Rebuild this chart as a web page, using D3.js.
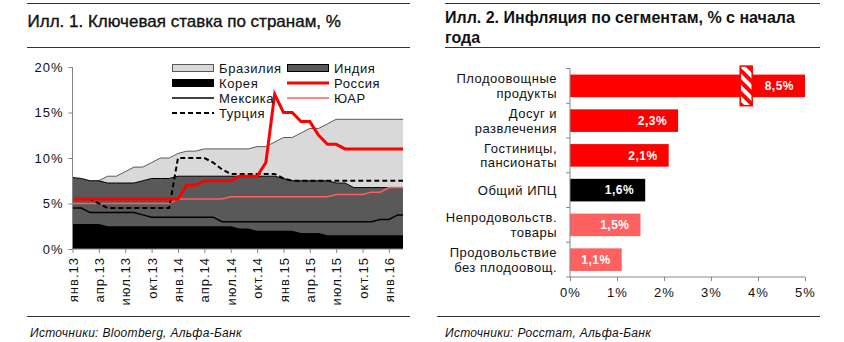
<!DOCTYPE html>
<html><head><meta charset="utf-8">
<script src="https://cdn.jsdelivr.net/npm/d3@7/dist/d3.min.js"></script>
<style>
body{margin:0;background:#fff;}
svg{display:block;font-family:"Liberation Sans",Arial,sans-serif;}
</style></head>
<body>
<svg id="c" width="844" height="342"></svg>
<script>
// ---------- DATA: left chart (monthly, Jan 2013 .. Mar 2016) ----------
const monthTicks = ["янв.13","апр.13","июл.13","окт.13","янв.14","апр.14","июл.14","окт.14","янв.15","апр.15","июл.15","окт.15","янв.16"];
const brazil = [7.25,7.25,7.25,7.5,8.0,8.0,8.5,9.0,9.0,9.5,10.0,10.0,10.5,10.75,10.75,11.0,11.0,11.0,11.0,11.0,11.0,11.25,11.25,11.75,12.25,12.25,12.75,13.25,13.25,13.75,14.25,14.25,14.25,14.25,14.25,14.25,14.25,14.25,14.25];
const india  = [7.85,7.75,7.5,7.5,7.25,7.25,7.25,7.25,7.5,7.75,7.75,7.75,8.0,8.0,8.0,8.0,8.0,8.0,8.0,8.0,8.0,8.0,8.0,8.0,7.75,7.5,7.5,7.5,7.5,7.5,7.25,7.25,6.75,6.75,6.75,6.75,6.75,6.75,6.75];
const korea  = [2.75,2.75,2.75,2.75,2.5,2.5,2.5,2.5,2.5,2.5,2.5,2.5,2.5,2.5,2.5,2.5,2.5,2.5,2.5,2.25,2.25,2.0,2.0,2.0,2.0,2.0,1.75,1.75,1.75,1.5,1.5,1.5,1.5,1.5,1.5,1.5,1.5,1.5,1.5];
const russia = [5.5,5.5,5.5,5.5,5.5,5.5,5.5,5.5,5.5,5.5,5.5,5.5,5.5,7.0,7.0,7.5,7.5,7.5,7.5,8.0,8.0,8.0,9.5,17.0,15.0,15.0,14.0,14.0,12.5,11.5,11.5,11.0,11.0,11.0,11.0,11.0,11.0,11.0,11.0];
const mexico = [4.5,4.5,4.0,4.0,4.0,4.0,4.0,4.0,3.75,3.5,3.5,3.5,3.5,3.5,3.5,3.5,3.5,3.0,3.0,3.0,3.0,3.0,3.0,3.0,3.0,3.0,3.0,3.0,3.0,3.0,3.0,3.0,3.0,3.0,3.0,3.25,3.25,3.75,3.75];
const safrica= [5.0,5.0,5.0,5.0,5.0,5.0,5.0,5.0,5.0,5.0,5.0,5.0,5.5,5.5,5.5,5.5,5.5,5.5,5.75,5.75,5.75,5.75,5.75,5.75,5.75,5.75,5.75,5.75,5.75,5.75,6.0,6.0,6.0,6.0,6.25,6.25,6.75,6.75,6.75];
const turkey = [5.5,5.5,5.5,5.0,4.5,4.5,4.5,4.5,4.5,4.5,4.5,4.5,10.0,10.0,10.0,10.0,9.5,8.75,8.25,8.25,8.25,8.25,8.25,8.25,7.75,7.5,7.5,7.5,7.5,7.5,7.5,7.5,7.5,7.5,7.5,7.5,7.5,7.5,7.5];
const leftYTicks = [0,5,10,15,20];
const legendNames = ["Бразилия","Индия","Корея","Россия","Мексика","ЮАР","Турция"];

// ---------- DATA: right chart ----------
const segCategories = ["Плодоовощные\nпродукты","Досуг и\nразвлечения","Гостиницы,\nпансионаты","Общий ИПЦ","Непродовольств.\nтовары","Продовольствие\nбез плодоовощ."];
const segValues = [8.5,2.3,2.1,1.6,1.5,1.1];
const segColors = ["#ff0000","#ff0000","#ff0000","#000000","#ff6161","#ff6161"];
const rightXTicks = [0,1,2,3,4,5];

const svg = d3.select("#c");
const FONT = "13px";

// ---------- headers / rules ----------
function rule(x1,x2,y){svg.append("line").attr("x1",x1).attr("x2",x2).attr("y1",y).attr("y2",y).attr("stroke","#333").attr("stroke-width",1);}
rule(27,410,3.5); rule(27,410,47.5); rule(27,410,316.5);
rule(445,820,3.5); rule(445,820,47.5); rule(437,820,316.5);
svg.append("text").attr("x",27.5).attr("y",27).attr("font-size","17px").attr("fill","#111")
  .attr("stroke","#111").attr("stroke-width",0.35).text("Илл. 1. Ключевая ставка по странам, %");
const titleB = (x,y,t)=>svg.append("text").attr("x",x).attr("y",y).attr("font-size","16px").attr("font-weight","bold").attr("fill","#111").text(t);
titleB(445,23,"Илл. 2. Инфляция по сегментам, % с начала");
titleB(445,42.5,"года");
svg.append("text").attr("x",30).attr("y",337).attr("font-size","12px").attr("font-style","italic").attr("letter-spacing","0.3px").attr("fill","#111").text("Источники: Bloomberg, Альфа-Банк");
svg.append("text").attr("x",445).attr("y",337).attr("font-size","12px").attr("font-style","italic").attr("letter-spacing","0.3px").attr("fill","#111").text("Источники: Росстат, Альфа-Банк");

// ---------- left chart ----------
const xL = d3.scaleLinear().domain([0,37.6]).range([72.5,403]);
const yL = d3.scaleLinear().domain([0,20]).range([249,67]);
const idx = d3.range(brazil.length);
svg.append("defs").append("clipPath").attr("id","clipL").append("rect")
  .attr("x",xL(0)).attr("y",yL(20)-5).attr("width",xL(37.6)-xL(0)).attr("height",yL(0)-yL(20)+5);
const gL = svg.append("g").attr("clip-path","url(#clipL)");
function area(arr){return d3.area().x(i=>xL(i)).y0(yL(0)).y1(i=>yL(arr[i]))(idx);}
function line(arr){return d3.line().x(i=>xL(i)).y(i=>yL(arr[i]))(idx);}
gL.append("path").attr("d",area(brazil)).attr("fill","#d9d9d9");
gL.append("path").attr("d",line(brazil)).attr("fill","none").attr("stroke","#595959").attr("stroke-width",1);
gL.append("path").attr("d",area(india)).attr("fill","#595959");
gL.append("path").attr("d",line(india)).attr("fill","none").attr("stroke","#000").attr("stroke-width",1);
gL.append("path").attr("d",area(korea)).attr("fill","#000");
gL.append("path").attr("d",line(mexico)).attr("fill","none").attr("stroke","#000").attr("stroke-width",1.5);
gL.append("path").attr("d",line(safrica)).attr("fill","none").attr("stroke","#ff5f5f").attr("stroke-width",1.5);
gL.append("path").attr("d",line(turkey)).attr("fill","none").attr("stroke","#000").attr("stroke-width",2).attr("stroke-dasharray","5,3");
gL.append("path").attr("d",line(russia)).attr("fill","none").attr("stroke","#ff0000").attr("stroke-width",3);

// axes
const yAxisL = d3.axisLeft(yL).tickValues(leftYTicks).tickSize(4).tickFormat(d=>d+"%");
const gyL = svg.append("g").attr("transform",`translate(${xL(0)},0)`).call(yAxisL);
const xAxisL = d3.axisBottom(xL).tickValues(d3.range(0,37,3)).tickSize(4).tickFormat((d,i)=>monthTicks[i]);
const gxL = svg.append("g").attr("transform",`translate(0,${yL(0)})`).call(xAxisL);
gxL.selectAll("text").attr("transform","rotate(-90)").attr("text-anchor","end").attr("x",-8).attr("y",0).attr("dy","0.35em");
[gyL,gxL].forEach(g=>{
  g.select(".domain").attr("stroke","#868686");
  g.selectAll(".tick line").attr("stroke","#868686");
  g.selectAll("text").attr("font-size",FONT).attr("letter-spacing","1px").attr("font-family","Liberation Sans, Arial, sans-serif").attr("fill","#111");
});
gxL.select(".domain").attr("d",`M${xL(0)},0H${xL(37.6)}`);
gyL.select(".domain").attr("d",`M0,${yL(20)}V${yL(0)}`);
gyL.selectAll("text").attr("x",-9);

// legend
const legX = [172,287], legY0 = 68, legDy = 15;
legendNames.forEach((name,i)=>{
  const col=i%2,row=Math.floor(i/2);
  const x=legX[col], y=legY0+row*legDy;
  const g=svg.append("g");
  if(name==="Бразилия") g.append("rect").attr("x",x+0.5).attr("y",y-3.5).attr("width",41).attr("height",7).attr("fill","#d9d9d9").attr("stroke","#595959");
  if(name==="Индия") g.append("rect").attr("x",x+0.5).attr("y",y-3.5).attr("width",41).attr("height",7).attr("fill","#595959").attr("stroke","#000");
  if(name==="Корея") g.append("rect").attr("x",x+0.5).attr("y",y-3.5).attr("width",41).attr("height",7).attr("fill","#000").attr("stroke","#000");
  const ln=(c,w,da)=>g.append("line").attr("x1",x).attr("x2",x+42).attr("y1",y).attr("y2",y).attr("stroke",c).attr("stroke-width",w).attr("stroke-dasharray",da||null);
  if(name==="Россия") ln("#ff0000",3);
  if(name==="Мексика") ln("#000",1.5);
  if(name==="ЮАР") ln("#ff5f5f",1.5);
  if(name==="Турция") ln("#000",2,"5,3");
  g.append("text").attr("x",x+47).attr("y",y).attr("dy","0.36em").attr("font-size",FONT).attr("letter-spacing","0.6px").attr("fill","#111").text(name);
});

// ---------- right chart ----------
const xR = d3.scaleLinear().domain([0,5]).range([570,805]);
const yR = d3.scaleBand().domain(segCategories).range([68.5,277]).paddingInner(0.35).paddingOuter(0.175);
const defs = svg.select("defs");
const pat = defs.append("pattern").attr("id","hatch").attr("patternUnits","userSpaceOnUse").attr("width",8).attr("height",8).attr("patternTransform","rotate(-45)");
pat.append("rect").attr("width",8).attr("height",8).attr("fill","#fff");
pat.append("rect").attr("width",4).attr("height",8).attr("fill","#ff0000");

const gR = svg.append("g");
segCategories.forEach((c,i)=>{
  const v=segValues[i];
  gR.append("rect").attr("x",xR(0)).attr("y",yR(c)).attr("width",xR(Math.min(v,5))-xR(0)).attr("height",yR.bandwidth()).attr("fill",segColors[i]);
  gR.append("text").attr("x",xR(Math.min(v,5))-11).attr("y",yR(c)+yR.bandwidth()/2).attr("dy","0.36em")
    .attr("text-anchor","end").attr("font-size","12px").attr("font-weight","bold").attr("letter-spacing","0.5px").attr("fill","#fff")
    .text(d3.format(".1f")(v).replace(".",",")+"%");
  if(v>5){
    // axis break marker
    gR.append("rect").attr("x",xR(3.6)+1).attr("y",yR(c)-8.5).attr("width",12).attr("height",yR.bandwidth()+17)
      .attr("fill","url(#hatch)").attr("stroke","#ff0000").attr("stroke-width",1.5);
  }
});
const yAxisR = d3.axisLeft(yR).tickSize(0).tickFormat("");
const gyR = svg.append("g").attr("transform",`translate(${xR(0)},0)`).call(yAxisR);
gyR.select(".domain").attr("stroke","#868686").attr("d",`M0,68.5V277`);
const bounds = d3.range(segCategories.length+1).map(i=>68.5+i*yR.step());
gyR.selectAll(".bt").data(bounds).join("line").attr("x1",-4).attr("x2",0).attr("y1",d=>d).attr("y2",d=>d).attr("stroke","#868686");
segCategories.forEach(c=>{
  const lines=c.split("\n");
  const cy=yR(c)+yR.bandwidth()/2;
  const t=svg.append("text").attr("x",557).attr("text-anchor","end").attr("font-size",FONT).attr("letter-spacing","0.5px").attr("fill","#111");
  lines.forEach((l,k)=>{
    t.append("tspan").attr("x",557).attr("y",cy+(k-(lines.length-1)/2)*14.5).attr("dy","0.36em").text(l);
  });
});
const xAxisR = d3.axisBottom(xR).tickValues(rightXTicks).tickSize(4).tickFormat(d=>d+"%");
const gxR = svg.append("g").attr("transform","translate(0,277)").call(xAxisR);
gxR.select(".domain").attr("stroke","#868686").attr("d",`M${xR(0)},0H${xR(5)}`);
gxR.selectAll(".tick line").attr("stroke","#868686");
gxR.selectAll("text").attr("font-size",FONT).attr("letter-spacing","1px").attr("font-family","Liberation Sans, Arial, sans-serif").attr("fill","#111").attr("y",11);
</script>
</body></html>
